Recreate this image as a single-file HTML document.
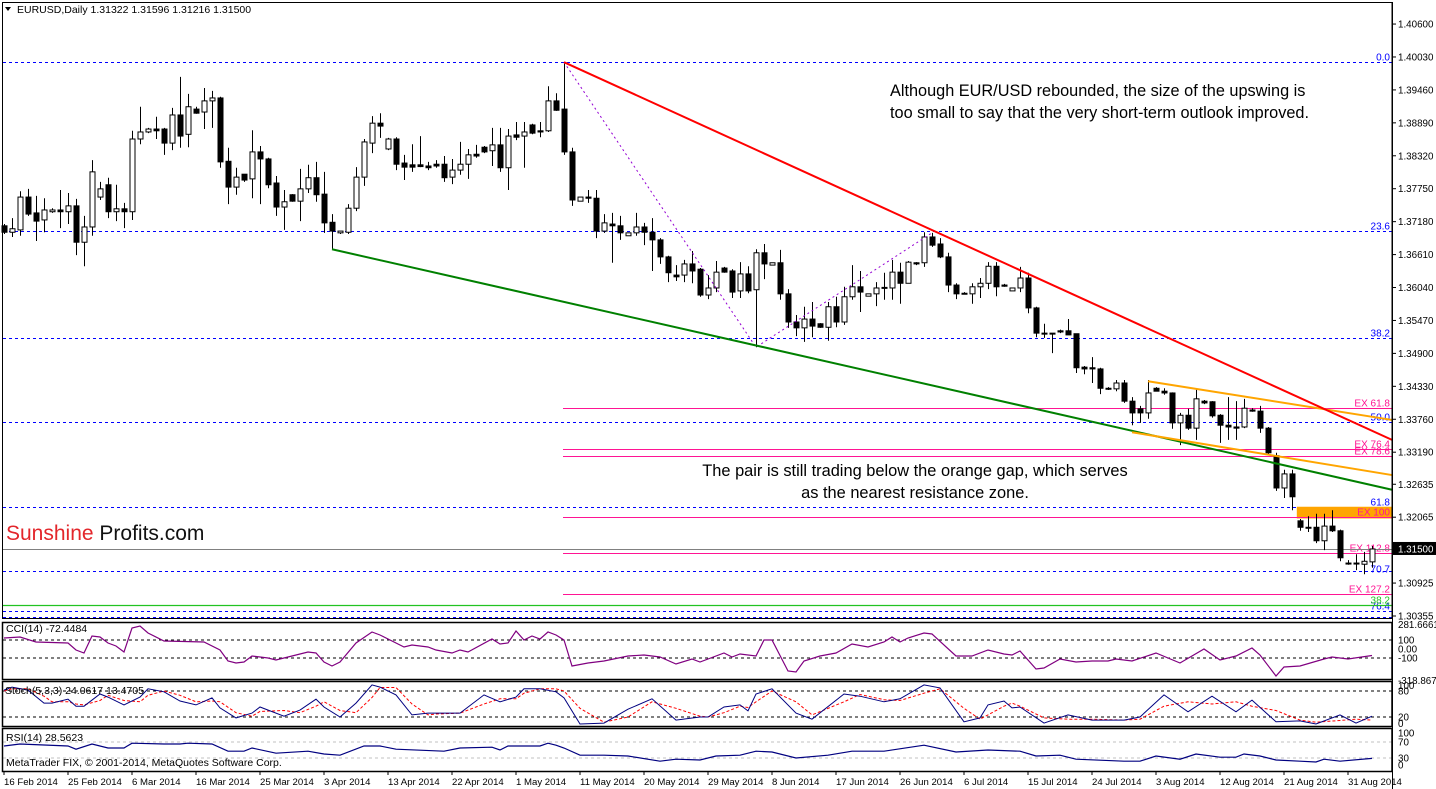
<!DOCTYPE html>
<html><head><meta charset="utf-8"><style>
html,body{margin:0;padding:0;background:#fff}
svg{display:block}
text{font-family:"Liberation Sans",Arial,sans-serif}
</style></head><body>
<svg id="chart" width="1436" height="789" viewBox="0 0 1436 789" xmlns="http://www.w3.org/2000/svg">
<rect x="0" y="0" width="1436" height="789" fill="#fff"/>
<g id="main"></g>
<g id="ind"></g>
<g id="axes"></g>
</svg>
<script>
// ---- price data (OHLC per daily bar) ----
const opens=[1.3701,1.3690,1.3694,1.3750,1.3723,1.3711,1.3725,1.3728,1.3725,1.3735,1.3673,1.3699,1.3750,1.3771,1.3725,1.3730,1.3725,1.3849,1.3861,1.3866,1.3866,1.3842,1.3890,1.3857,1.3900,1.3895,1.3914,1.3919,1.3811,1.3767,1.3789,1.3781,1.3827,1.3815,1.3774,1.3733,1.3754,1.3743,1.3764,1.3783,1.3755,1.3707,1.3689,1.3690,1.3731,1.3784,1.3842,1.3876,1.3832,1.3849,1.3808,1.3805,1.3805,1.3803,1.3806,1.3806,1.3784,1.3796,1.3806,1.3823,
1.3835,1.3829,1.3839,1.3800,1.3856,1.3854,1.3873,1.3863,1.3863,1.3914,1.3900,1.3827,1.3743,1.3750,1.3748,1.3692,1.3704,1.3701,1.3684,1.3689,1.3699,1.3690,1.3677,1.3648,1.3617,1.3617,1.3636,1.3627,1.3583,1.3595,1.3629,1.3624,1.3590,1.3619,1.3592,1.3655,1.3634,1.3638,1.3585,1.3537,1.3527,1.3542,1.3534,1.3528,1.3563,1.3537,1.3580,1.3597,1.3581,1.3585,1.3595,1.3595,1.3622,1.3603,1.3638,1.3638,1.3682,1.3670,1.3648,
1.3600,1.3586,1.3585,1.3597,1.3603,1.3632,1.3600,1.3590,1.3595,1.3612,1.3561,1.3518,1.3518,1.3522,1.3522,1.3517,1.3460,1.3459,1.3457,1.3424,1.3423,1.3433,1.3402,1.3389,1.3382,1.3424,1.3419,1.3416,1.3365,1.3378,1.3356,1.3402,1.3401,1.3378,1.3361,1.3358,1.3358,1.3387,1.3385,1.3356,1.3309,1.3254,1.3278,1.3198,1.3187,1.3187,1.3164,1.3189,1.3181,1.3126,1.3126,1.3124,1.3128];
const highs=[1.3704,1.3714,1.3760,1.3764,1.3752,1.3748,1.3731,1.3762,1.3757,1.3747,1.3718,1.3813,1.3776,1.3783,1.3771,1.3740,1.3863,1.3904,1.3868,1.3887,1.3868,1.3902,1.3955,1.3926,1.3904,1.3936,1.3931,1.3921,1.3834,1.3800,1.3789,1.3864,1.3837,1.3817,1.3786,1.3762,1.3755,1.3798,1.3805,1.3810,1.3793,1.3721,1.3692,1.3738,1.3801,1.3849,1.3888,1.3893,1.3851,1.3852,1.3822,1.3840,1.3854,1.3810,1.3813,1.3820,1.3815,1.3844,1.3832,1.3839,
1.3837,1.3868,1.3868,1.3866,1.3878,1.3878,1.3875,1.3878,1.3939,1.3927,1.3980,1.3834,1.3750,1.3762,1.3762,1.3721,1.3723,1.3718,1.3689,1.3723,1.3706,1.3714,1.3680,1.3650,1.3634,1.3643,1.3658,1.3629,1.3617,1.3641,1.3631,1.3627,1.3639,1.3632,1.3661,1.3670,1.3638,1.3660,1.3593,1.3549,1.3563,1.3571,1.3535,1.3571,1.3580,1.3597,1.3634,1.3624,1.3583,1.3605,1.3621,1.3643,1.3638,1.3641,1.3639,1.3690,1.3689,1.3680,1.3655,
1.3603,1.3588,1.3603,1.3612,1.3639,1.3639,1.3602,1.3595,1.3631,1.3621,1.3563,1.3534,1.3518,1.3524,1.3542,1.3517,1.3462,1.3477,1.3459,1.3426,1.3438,1.3438,1.3409,1.3394,1.3438,1.3426,1.3424,1.3417,1.3382,1.3389,1.3423,1.3404,1.3402,1.3380,1.3409,1.3402,1.3406,1.3390,1.3394,1.3358,1.3314,1.3285,1.3285,1.3201,1.3206,1.3210,1.3210,1.3216,1.3183,1.3131,1.3141,1.3145,1.3155];
const lows=[1.3687,1.3682,1.3684,1.3718,1.3675,1.3690,1.3723,1.3697,1.3704,1.3651,1.3632,1.3684,1.3745,1.3714,1.3709,1.3697,1.3711,1.3840,1.3859,1.3849,1.3822,1.3830,1.3834,1.3835,1.3892,1.3866,1.3868,1.3800,1.3738,1.3754,1.3776,1.3748,1.3738,1.3765,1.3718,1.3694,1.3742,1.3709,1.3757,1.3742,1.3689,1.3661,1.3687,1.3687,1.3726,1.3769,1.3825,1.3851,1.3830,1.3796,1.3779,1.3793,1.3801,1.3796,1.3800,1.3776,1.3772,1.3788,1.3781,1.3817,
1.3825,1.3803,1.3793,1.3762,1.3847,1.3800,1.3857,1.3852,1.3861,1.3897,1.3822,1.3735,1.3743,1.3740,1.3680,1.3689,1.3638,1.3677,1.3684,1.3684,1.3668,1.3624,1.3636,1.3605,1.3607,1.3605,1.3603,1.3580,1.3576,1.3588,1.3621,1.3578,1.3578,1.3586,1.3494,1.3610,1.3634,1.3575,1.3527,1.3513,1.3503,1.3511,1.3527,1.3505,1.3528,1.3532,1.3575,1.3554,1.3581,1.3564,1.3575,1.3575,1.3568,1.3603,1.3634,1.3631,1.3665,1.3646,1.3588,
1.3576,1.3585,1.3568,1.3578,1.3593,1.3581,1.3597,1.3590,1.3588,1.3552,1.3511,1.3510,1.3484,1.3518,1.3515,1.3450,1.3448,1.3433,1.3414,1.3421,1.3419,1.3399,1.3361,1.3365,1.3372,1.3419,1.3413,1.3355,1.3327,1.3353,1.3336,1.3397,1.3374,1.3331,1.3336,1.3336,1.3356,1.3384,1.3348,1.3310,1.3249,1.3237,1.3216,1.3181,1.3179,1.3160,1.3148,1.3179,1.3129,1.3123,1.3114,1.3107,1.3118];
const closes=[1.3690,1.3696,1.3750,1.3721,1.3709,1.3728,1.3728,1.3725,1.3735,1.3673,1.3699,1.3793,1.3764,1.3725,1.3730,1.3725,1.3849,1.3861,1.3866,1.3863,1.3842,1.3890,1.3854,1.3904,1.3893,1.3914,1.3919,1.3810,1.3767,1.3784,1.3779,1.3827,1.3815,1.3771,1.3733,1.3742,1.3743,1.3764,1.3783,1.3754,1.3706,1.3692,1.3692,1.3731,1.3784,1.3844,1.3876,1.3871,1.3849,1.3806,1.3801,1.3801,1.3802,1.3800,1.3803,1.3783,1.3796,1.3806,1.3822,1.3820,
1.3827,1.3839,1.3800,1.3854,1.3852,1.3861,1.3859,1.3861,1.3914,1.3898,1.3827,1.3745,1.3750,1.3748,1.3692,1.3706,1.3701,1.3689,1.3689,1.3699,1.3690,1.3677,1.3648,1.3621,1.3614,1.3636,1.3624,1.3583,1.3595,1.3622,1.3622,1.3588,1.3619,1.3590,1.3655,1.3636,1.3638,1.3585,1.3537,1.3527,1.3542,1.3530,1.3528,1.3563,1.3537,1.3580,1.3597,1.3588,1.3585,1.3595,1.3596,1.3622,1.3603,1.3639,1.3636,1.3682,1.3668,1.3648,1.3600,
1.3585,1.3586,1.3597,1.3603,1.3632,1.3597,1.3598,1.3595,1.3612,1.3561,1.3518,1.3517,1.3517,1.3520,1.3515,1.3459,1.3457,1.3457,1.3424,1.3423,1.3433,1.3402,1.3382,1.3382,1.3416,1.3419,1.3416,1.3365,1.3378,1.3356,1.3406,1.3399,1.3377,1.3361,1.3358,1.3356,1.3390,1.3385,1.3356,1.3314,1.3254,1.3278,1.3239,1.3187,1.3186,1.3164,1.3189,1.3181,1.3135,1.3125,1.3125,1.3129,1.3150];
// ---- price axis ticks ----
const priceTicks=["1.40600","1.40030","1.39460","1.38890","1.38320","1.37750","1.37180","1.36610","1.36040","1.35470","1.34900","1.34330","1.33760","1.33190","1.32635","1.32065","1.30925","1.30355"];
const lastPrice=1.3150;
// ---- date labels (bar index, text) ----
const dateBars=[0,8,16,24,32,40,48,56,64,72,80,88,96,104,112,120,128,136,144,152,160,168];
const dateLabels=["16 Feb 2014","25 Feb 2014","6 Mar 2014","16 Mar 2014","25 Mar 2014","3 Apr 2014","13 Apr 2014","22 Apr 2014","1 May 2014","11 May 2014","20 May 2014","29 May 2014","8 Jun 2014","17 Jun 2014","26 Jun 2014","6 Jul 2014","15 Jul 2014","24 Jul 2014","3 Aug 2014","12 Aug 2014","21 Aug 2014","31 Aug 2014"];
// ---- fibonacci retracement levels ----
const fibLevels=[1.3980,1.3692,1.3510,1.3367,1.3222,1.3112,1.3044];
const fibNames=["0.0","23.6","38.2","50.0","61.8","70.7","76.4"];
// ---- expansion levels ----
const exLevels=[1.3390,1.3321,1.3309,1.3205,1.3143,1.3073];
const exNames=["EX 61.8","EX 76.4","EX 78.6","EX 100","EX 112.8","EX 127.2"];
const greenFib=1.3055;
// ---- trend lines [bar, price] ----
const redLine=[[70,1.3980],[173.5,1.3336]];
const greenLine=[[41,1.3661],[173.5,1.3251]];
const orangeUpper=[[143,1.3436],[173.5,1.3370]];
const orangeLower=[[141,1.3349],[173.5,1.3276]];
const zigzag=[[70,1.3980],[94,1.3494],[116,1.3689]];
const gapTop=1.3222, gapBottom=1.3202, gapStartBar=161.6;
// ---- CCI(14) ----
const cciBars=[0,2,4,8,9,10,11,12,13,14,15,16,17,18,20,25,27,28,29,30,31,33,34,36,38,39,40,41,42,44,46,47,50,51,53,54,56,57,58,61,62,63,64,65,66,67,68,69,70,71,73,75,78,80,82,84,86,87,90,91,92,94,95,96,98,99,100,102,104,106,108,110,111,112,113,115,116,119,121,123,125,126,127,129,130,132,134,136,138,139,141,144,147,150,152,154,156,157,159,160,162,165,166,168,171];
const cciVals=[122,133,78,67,-11,-44,144,133,67,33,-33,233,256,178,89,78,-11,-133,-156,-144,-78,-100,-122,-78,-33,-44,-144,-189,-144,67,189,156,22,44,22,-11,-44,-11,-33,111,56,67,200,100,144,111,189,156,100,-189,-156,-133,-78,-67,-89,-167,-111,-144,-44,-89,-56,-78,100,100,-244,-256,-133,-78,-44,56,22,78,133,78,122,178,167,-78,-78,-11,-56,-67,-22,-222,-211,-111,-144,-133,-133,-111,-133,-44,-156,0,-122,-78,11,-67,-300,-200,-189,-111,-89,-111,-72];
// ---- Stochastic(5,3,3) ----
const stoBars=[0,1,3,5,6,8,9,10,12,13,15,17,18,20,22,24,26,27,29,31,32,35,37,39,40,42,44,46,47,49,51,53,54,57,60,62,64,65,67,69,70,72,75,78,81,84,87,88,90,92,93,94,96,99,101,105,107,110,112,115,117,120,122,123,125,126,127,130,133,136,140,142,145,148,151,154,156,159,162,164,167,169,171];
const stoK=[82,89,82,52,52,61,45,45,73,66,48,66,85,78,57,48,64,41,18,29,43,22,36,61,43,20,52,94,89,71,25,29,29,29,71,55,66,85,85,78,64,4,6,38,62,13,20,20,43,48,34,73,85,29,15,73,68,55,62,94,87,9,18,48,57,41,43,6,25,13,13,20,71,32,68,32,59,9,11,4,25,6,22];
const stoD=[80,85,85,68,55,55,50,48,58,70,58,55,70,80,70,55,57,55,30,22,33,35,30,45,55,35,30,65,88,88,50,25,27,29,50,62,62,75,85,85,80,40,8,20,55,40,22,20,30,45,42,55,80,55,25,55,72,60,58,75,85,40,15,25,45,52,45,18,15,15,13,15,45,55,50,55,45,35,13,8,12,15,13];
// ---- RSI(14) ----
const rsiBars=[0,2,8,9,11,13,15,16,20,22,23,26,28,30,31,34,38,40,42,45,47,49,55,57,61,62,63,67,68,69,70,72,75,78,82,84,87,89,92,94,96,99,103,106,110,115,119,123,127,129,132,134,140,142,144,147,149,152,154,155,157,159,162,164,165,167,171];
const rsiVals=[60,65,60,52,65,55,55,67,65,65,67,65,47,47,55,42,47,40,37,60,60,52,47,55,57,50,60,60,67,62,55,37,37,35,22,27,25,35,37,47,45,30,37,47,47,62,45,50,47,35,37,27,22,22,35,27,40,32,32,40,35,25,22,20,27,22,29];

const NS="http://www.w3.org/2000/svg";
const gMain=document.getElementById('main'), gInd=document.getElementById('ind'), gAx=document.getElementById('axes');
const RIGHT=1392, LEFT=3;
function xb(i){return 4+i*8;}
function yp(p){return (1.4086-p)/0.0001705;}
function yTick(p){return 616-(p-1.30355)*5778;}
function yCci(v){return 649-v*0.09;}
function ySto(v){return 725.7-v*0.434;}
function yRsi(v){return 770-v*0.4;}
function el(tag,attrs,parent){const e=document.createElementNS(NS,tag);for(const k in attrs)e.setAttribute(k,attrs[k]);parent.appendChild(e);return e;}
function txt(s,attrs,parent){const e=el('text',attrs,parent);e.textContent=s;return e;}

let f=el('rect',{x:2.5,y:2.5,width:RIGHT-2.5,height:616,fill:'none',stroke:'#000','stroke-width':1},gAx);


[[622,679],[681,726],[728,771]].forEach((r,k)=>{
  const p=el('rect',{x:2.5,y:r[0]+0.5,width:RIGHT-2.5,height:r[1]-r[0],fill:'none',stroke:'#000','stroke-width':1.5},gAx);
  
  
});

let hi=el('path',{d:'M5 7 L11 7 L8 11 Z',fill:'#000'},gMain);


let ht=txt('EURUSD,Daily  1.31322 1.31596 1.31216 1.31500',{x:17,y:13,'font-size':10.5,fill:'#000','xml:space':'preserve'},gMain);



fibLevels.forEach((p,k)=>{
  const y=Math.round(yp(p))+0.5;
  const l=el('line',{x1:LEFT,x2:RIGHT,y1:y,y2:y,stroke:'#0000ff','stroke-dasharray':'3,3','stroke-width':1},gMain);
  
  
  const t=txt(fibNames[k],{x:RIGHT-2,y:(k==5?y+1:y-2),'font-size':10,fill:'#0000ff','text-anchor':'end'},gMain);
  
  
});
{const y=Math.round(yp(greenFib))+0.5;
 const l=el('line',{x1:LEFT,x2:RIGHT,y1:y,y2:y,stroke:'#22c322','stroke-width':1.2},gMain);
 
 
 const t=txt('38.2',{x:RIGHT-2,y:y-2,'font-size':10,fill:'#22c322','text-anchor':'end'},gMain);
 
 }
{const l=el('line',{x1:LEFT,x2:RIGHT,y1:617.5,y2:617.5,stroke:'#0000ff','stroke-dasharray':'3,3'},gMain);
 
 }
{const r=el('rect',{x:xb(gapStartBar),y:yp(gapTop),width:RIGHT-xb(gapStartBar),height:yp(gapBottom)-yp(gapTop),fill:'#ffa500'},gMain);
 
 }
exLevels.forEach((p,k)=>{
  const y=Math.round(yp(p))+0.5;
  const l=el('line',{x1:563,x2:RIGHT,y1:y,y2:y,stroke:'#ff1493','stroke-width':1},gMain);
  
  
  const t=txt(exNames[k],{x:RIGHT-2,y:y-2,'font-size':10,fill:'#ff1493','text-anchor':'end'},gMain);
  
  
});
{const y=Math.round(yp(lastPrice))+0.5;
 const l=el('line',{x1:LEFT,x2:RIGHT,y1:y,y2:y,stroke:'#808080','stroke-width':1},gMain);
 
 }

for(let i=0;i<closes.length;i++){
  const x=xb(i), o=yp(opens[i]), c=yp(closes[i]), h=yp(highs[i]), lo=yp(lows[i]);
  const g=el('g',{},gMain);
  
  
  el('line',{x1:x+0.5,x2:x+0.5,y1:h,y2:lo,stroke:'#000','stroke-width':1},g);
  const top=Math.min(o,c), ht2=Math.max(Math.abs(o-c),1);
  el('rect',{x:x-2,y:top,width:5,height:ht2,fill:closes[i]>=opens[i]?'#fff':'#000',stroke:'#000','stroke-width':1},g);
}
function seg(pts,attrs,name){
  const d=pts.map((p,k)=>(k?'L':'M')+xb(p[0])+' '+yp(p[1])).join(' ');
  const e=el('path',Object.assign({d:d,fill:'none'},attrs),gMain);
  
  
}
seg(zigzag,{stroke:'#9400d3','stroke-width':1,'stroke-dasharray':'2,3'},'zigzag-dotted-line');
seg(greenLine,{stroke:'#008000','stroke-width':2},'green-support-line');
seg(orangeUpper,{stroke:'#ffa500','stroke-width':2},'orange-channel-upper');
seg(orangeLower,{stroke:'#ffa500','stroke-width':2},'orange-channel-lower');
seg(redLine,{stroke:'#ff0000','stroke-width':2},'red-resistance-line');

[['Although EUR/USD rebounded, the size of the upswing is',890,96],['too small to say that the very short-term outlook improved.',890,118]].forEach(a=>{
  const t=txt(a[0],{x:a[1],y:a[2],'font-size':16.3,fill:'#000'},gMain);
  
  
});
[['The pair is still trading below the orange gap, which serves',915,476],['as the nearest resistance zone.',915,498]].forEach(a=>{
  const t=txt(a[0],{x:a[1],y:a[2],'font-size':16.4,fill:'#000','text-anchor':'middle'},gMain);
  
  
});
{const t=el('text',{x:6,y:540,'font-size':21},gMain);
 
 
 const a=el('tspan',{fill:'#e3262b'},t);a.textContent='Sunshine ';
 const b=el('tspan',{fill:'#111'},t);b.textContent='Profits.com';}

el('line',{x1:RIGHT+0.5,x2:RIGHT+0.5,y1:2,y2:789,stroke:'#000'},gAx);
priceTicks.forEach(s=>{
  const y=yTick(parseFloat(s));
  el('line',{x1:RIGHT,x2:RIGHT+4,y1:y,y2:y,stroke:'#000'},gAx);
  const t=txt(s,{x:RIGHT+6,y:y+3.5,'font-size':9.8,fill:'#000'},gAx);
  
  
});
{const y=yp(lastPrice);
 const r=el('rect',{x:RIGHT+1,y:y-7,width:44,height:13,fill:'#000'},gAx);
 
 
 txt('1.31500',{x:RIGHT+6,y:y+3.5,'font-size':9.8,fill:'#fff'},gAx);}

dateBars.forEach((b,k)=>{
  const x=xb(b);
  el('line',{x1:x,x2:x,y1:771,y2:775,stroke:'#000'},gAx);
  const t=txt(dateLabels[k],{x:x,y:785,'font-size':9.6,fill:'#000'},gAx);
  
  
});

function dline(y,color,name){const l=el('line',{x1:LEFT,x2:RIGHT,y1:y,y2:y,stroke:color,'stroke-dasharray':'3,3'},gInd);}
function series(bars,vals,fy,attrs,name){
  const n=Math.min(bars.length,vals.length);
  let d='';for(let k=0;k<n;k++)d+=(k?'L':'M')+xb(bars[k])+' '+fy(vals[k]).toFixed(1)+' ';
  const e=el('path',Object.assign({d:d,fill:'none'},attrs),gInd);
  
  
}
dline(yCci(100),'#000','cci-level-100');dline(yCci(-100),'#000','cci-level-minus100');
series(cciBars,cciVals,yCci,{stroke:'#800080','stroke-width':1.2},'cci-line');
txt('CCI(14) -72.4484',{x:6,y:632,'font-size':10.5},gInd);
[['281.6661',yCci(281.67)+1],['100',yCci(100)],['0.00',yCci(0)],['-100',yCci(-100)],['-318.8676',yCci(-318.87)+3]].forEach(a=>{
  const t=txt(a[0],{x:RIGHT+6,y:a[1]+3.5,'font-size':9.8},gAx);
  
  
});
dline(ySto(80),'#000','stoch-level-80');dline(ySto(20),'#000','stoch-level-20');
series(stoBars,stoD,ySto,{stroke:'#ff0000','stroke-width':1,'stroke-dasharray':'3,2'},'stoch-signal-line');
series(stoBars,stoK,ySto,{stroke:'#000080','stroke-width':1},'stoch-main-line');
txt('Stoch(5,3,3) 24.0617 13.4705',{x:5,y:694,'font-size':10.5},gInd);
[['100',ySto(100)+3],['80',ySto(80)],['20',ySto(20)],['0',ySto(0)-2]].forEach(a=>{
  const t=txt(a[0],{x:RIGHT+6,y:a[1]+3.5,'font-size':9.8},gAx);
  
  
});
dline(yRsi(70),'#c0c0c0','rsi-level-70');dline(yRsi(30),'#c0c0c0','rsi-level-30');
series(rsiBars,rsiVals,yRsi,{stroke:'#000080','stroke-width':1.2},'rsi-line');
txt('RSI(14) 28.5623',{x:6,y:741,'font-size':10.5},gInd);
txt('MetaTrader FIX, © 2001-2014, MetaQuotes Software Corp.',{x:6,y:766,'font-size':10.5},gInd);
[['100',yRsi(100)+3],['70',yRsi(70)],['30',yRsi(30)],['0',yRsi(0)-5]].forEach(a=>{
  const t=txt(a[0],{x:RIGHT+6,y:a[1]+3.5,'font-size':9.8},gAx);
  
  
});
</script>
</body></html>
